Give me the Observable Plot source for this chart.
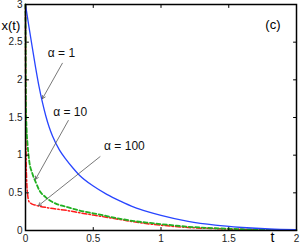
<!DOCTYPE html>
<html><head><meta charset="utf-8">
<script src="https://cdn.jsdelivr.net/npm/d3@7"></script>
<script src="https://cdn.jsdelivr.net/npm/@observablehq/plot@0.6"></script>
<style>body{margin:0;background:#fff}</style>
</head><body><div id="chart"></div>
<script>
// alpha = 1 (blue solid)
const tA1 = [0, 0.025, 0.05, 0.075, 0.1, 0.125, 0.15, 0.175, 0.2, 0.25, 0.3, 0.35, 0.4, 0.5, 0.6, 0.7, 0.8, 0.9, 1.0, 1.2, 1.4, 1.6, 1.8, 2.0];
const xA1 = [3, 2.71, 2.43, 2.16, 1.91, 1.70, 1.52, 1.37, 1.25, 1.07, 0.94, 0.83, 0.73, 0.59, 0.48, 0.39, 0.31, 0.25, 0.2, 0.12, 0.07, 0.04, 0.02, 0.01];
// alpha = 10 (green dashed)
const tA10 = [0, 0.002, 0.004, 0.008, 0.015, 0.027, 0.05, 0.076, 0.1, 0.15, 0.22, 0.31, 0.4, 0.55, 0.7, 0.8, 0.92, 1.0, 1.2, 1.4, 1.6, 1.8, 2.0];
const xA10 = [3, 2.0, 1.6, 1.35, 1.15, 0.93, 0.76, 0.64, 0.54, 0.44, 0.36, 0.31, 0.265, 0.21, 0.155, 0.125, 0.1, 0.085, 0.05, 0.03, 0.017, 0.009, 0.005];
// alpha = 100 (red dash-dot)
const tA100 = [0, 0.002, 0.005, 0.008, 0.015, 0.027, 0.05, 0.076, 0.17, 0.31, 0.4, 0.55, 0.7, 0.8, 0.92, 1.0, 1.2, 1.4, 1.6, 1.8, 2.0];
const xA100 = [3, 1.5, 0.9, 0.7, 0.49, 0.38, 0.35, 0.335, 0.30, 0.265, 0.235, 0.19, 0.145, 0.115, 0.085, 0.07, 0.04, 0.025, 0.014, 0.008, 0.004];

const xTicks = [0, 0.5, 1, 1.5, 2];
const yTicks = [0, 0.5, 1, 1.5, 2, 2.5, 3];

// annotations
const labels = ["α = 1", "α = 10", "α = 100"];
const labelT = [0.265, 0.33, 0.73];
const labelX = [2.35, 1.57, 1.12];
const arrowT1 = [0.272, 0.316, 0.55];
const arrowX1 = [2.22, 1.46, 0.98];
const arrowT2 = [0.125, 0.074, 0.096];
const arrowX2 = [1.75, 0.68, 0.33];

const zip = (ts, xs) => ts.map((t, i) => ({t, x: xs[i]}));
const s1 = zip(tA1, xA1), s10 = zip(tA10, xA10), s100 = zip(tA100, xA100);
const ann = labels.map((l, i) => ({l, t: labelT[i], x: labelX[i], t1: arrowT1[i], x1: arrowX1[i], t2: arrowT2[i], x2: arrowX2[i]}));
const fmt = d => String(d);
const tickShape = {draw(c, l) { c.moveTo(0, 0); c.lineTo(0, -l); }};
const inTick = (data, opts) => Plot.vector(data, {length: 3, anchor: "start", shape: tickShape, stroke: "#000", strokeWidth: 1, ...opts});

const chart = Plot.plot({
  width: 300, height: 248,
  marginLeft: 25, marginRight: 4, marginTop: 4, marginBottom: 18,
  style: {fontFamily: "'Liberation Sans', Arial, sans-serif", background: "#fff"},
  x: {domain: [0, 2]},
  y: {domain: [0, 3]},
  marks: [
    Plot.line(s100, {x: "t", y: "x", stroke: "#ff1a1a", strokeWidth: 1.5, strokeDasharray: "5,2,1.5,2", curve: "monotone-x"}),
    Plot.line(s10, {x: "t", y: "x", stroke: "#22b022", strokeWidth: 1.8, strokeDasharray: "4,2.5", curve: "monotone-x"}),
    Plot.line(s1, {x: "t", y: "x", stroke: "#2845ff", strokeWidth: 1.3, curve: "monotone-x"}),
    Plot.arrow(ann, {x1: "t1", y1: "x1", x2: "t2", y2: "x2", stroke: "#555", strokeWidth: 0.8, headLength: 6}),
    Plot.text(ann, {x: "t", y: "x", text: "l", fontSize: 12, fill: "#111"}),
    Plot.frame({stroke: "#000", strokeWidth: 1.5}),
    Plot.axisX(xTicks, {anchor: "bottom", tickSize: 0, tickPadding: 4, fontSize: 10, label: null, fill: "#222", tickFormat: fmt}),
    Plot.axisY(yTicks, {anchor: "left", tickSize: 0, tickPadding: 3, fontSize: 10, label: null, fill: "#222", tickFormat: fmt}),
    inTick(xTicks, {x: d => d, y: 0, rotate: 0}),
    inTick(xTicks, {x: d => d, y: 3, rotate: 180}),
    inTick(yTicks, {x: 0, y: d => d, rotate: 90}),
    inTick(yTicks, {x: 2, y: d => d, rotate: -90}),
    Plot.text(["x(t)"], {frameAnchor: "top-left", dx: -24, dy: 16, textAnchor: "start", fontSize: 13}),
    Plot.text(["t"], {frameAnchor: "bottom-right", dx: -22, dy: 11, fontSize: 14}),
    Plot.text(["(c)"], {frameAnchor: "top-right", dx: -16, dy: 15, fontSize: 13})
  ]
});
document.getElementById("chart").appendChild(chart);
</script>
</body></html>
